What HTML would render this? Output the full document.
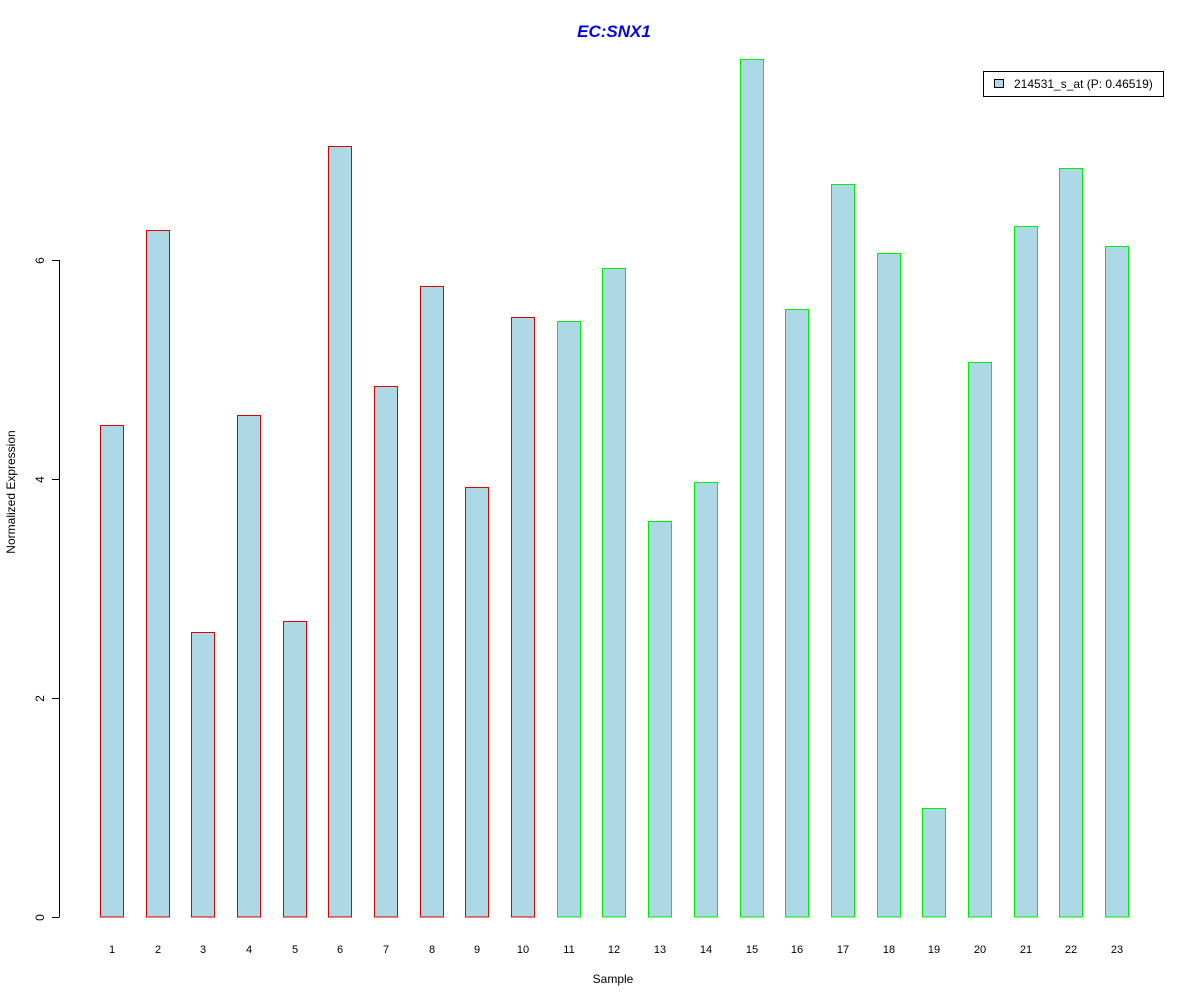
<!DOCTYPE html>
<html><head><meta charset="utf-8"><style>
body{margin:0;background:#fff;}
svg{display:block;font-family:"Liberation Sans",Arial,sans-serif;}
</style></head><body>
<svg id="chart" width="1200" height="1000" xmlns="http://www.w3.org/2000/svg">
<rect width="1200" height="1000" fill="#fff"/>
<text x="614" y="37" text-anchor="middle" font-size="17" font-weight="bold" font-style="italic" fill="#0000ee">EC:SNX1</text>
<text x="613" y="983" text-anchor="middle" font-size="12">Sample</text>
<text transform="translate(15,492) rotate(-90)" text-anchor="middle" font-size="12">Normalized Expression</text>
<g id="yaxis"></g>
<g id="bars"></g>
<g id="xlabels"></g>
<g>
<rect x="983.5" y="71.5" width="180" height="25" fill="#fff" stroke="#000"/>
<rect x="994.5" y="79.5" width="9" height="8" fill="#add8e6" stroke="#000"/>
<text x="1014" y="88" font-size="12">214531_s_at (P: 0.46519)</text>
</g>
</svg>
<script>
const categories=["1","2","3","4","5","6","7","8","9","10","11","12","13","14","15","16","17","18","19","20","21","22","23"];
const values=[4.49,6.27,2.60,4.58,2.70,7.04,4.85,5.76,3.93,5.48,5.44,5.93,3.62,3.97,7.84,5.55,6.69,6.06,1.00,5.07,6.31,6.84,6.13];
const groups=["a","a","a","a","a","a","a","a","a","a","b","b","b","b","b","b","b","b","b","b","b","b","b"];
const yTicks=[0,2,4,6];
const NS="http://www.w3.org/2000/svg";
const y0=917,pxPerUnit=109.5;
function yScale(v){return y0-v*pxPerUnit;}
function xScale(i){return 100+i*45.68;}
const barW=23;
function mk(tag,attrs,parent){const e=document.createElementNS(NS,tag);for(const k in attrs)e.setAttribute(k,attrs[k]);parent.appendChild(e);return e;}
const ya=document.getElementById('yaxis');
const ax=mk('line',{x1:59.5,x2:59.5,y1:yScale(yTicks[0]),y2:yScale(yTicks[yTicks.length-1]),stroke:'#000'},ya);


yTicks.forEach(t=>{
 const yy=Math.round(yScale(t))+0.5;
 const l=mk('line',{x1:52,x2:59.5,y1:yy,y2:yy,stroke:'#000'},ya);
 
 
 const tx=mk('text',{transform:`translate(44,${yy}) rotate(-90)`,'text-anchor':'middle','font-size':12},ya);
 tx.textContent=t;
 
 
});
const bg=document.getElementById('bars'),xl=document.getElementById('xlabels');
values.forEach((v,i)=>{
 const x=Math.round(xScale(i))+0.5,yt=Math.round(yScale(v))+0.5;
 const r=mk('rect',{x:x,y:yt,width:barW,height:y0-yt,fill:'#add8e6',stroke:groups[i]==='a'?'#dd0000':'#00ee00'},bg);
 
 
 const t=mk('text',{x:x+barW/2,y:953,'text-anchor':'middle','font-size':11},xl);
 t.textContent=categories[i];
 
 
});
</script>
</body></html>
